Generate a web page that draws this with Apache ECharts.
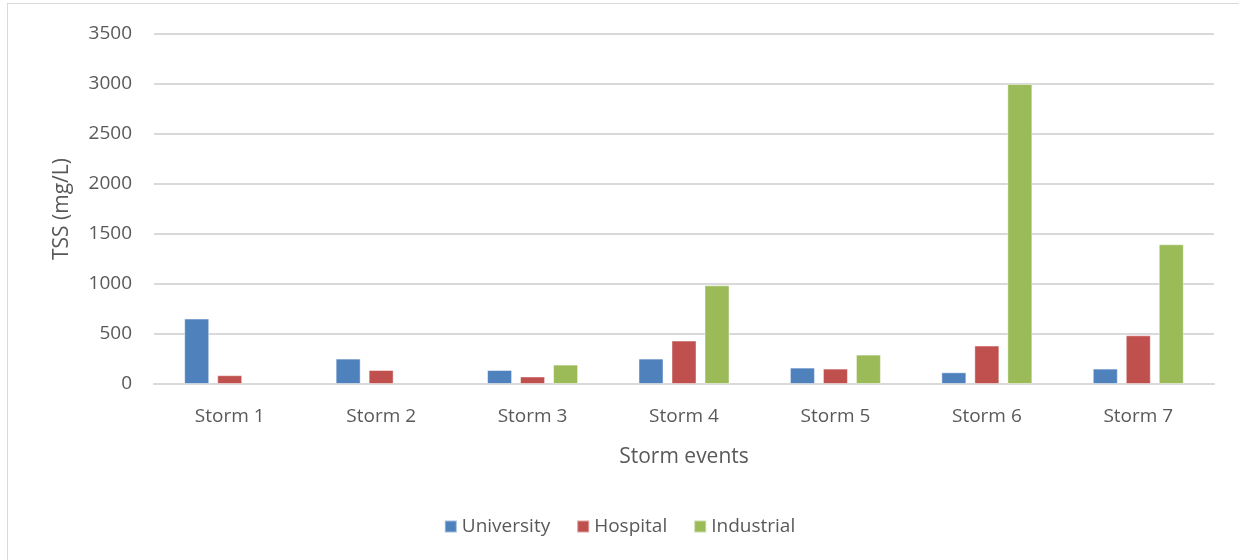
<!DOCTYPE html>
<html>
<head>
<meta charset="utf-8">
<script src="https://cdn.jsdelivr.net/npm/echarts@6/dist/echarts.min.js"></script>
<style>
html,body{margin:0;padding:0;background:#fff;}
#frame{position:absolute;left:7px;top:3px;width:1240px;height:570px;border:1px solid #d9d9d9;box-sizing:border-box;}
#chart{position:absolute;left:0;top:0;width:1239px;height:560px;}
</style>
</head>
<body>
<div id="frame"></div>
<div id="chart"></div>
<script>
const categories = ['Storm 1','Storm 2','Storm 3','Storm 4','Storm 5','Storm 6','Storm 7'];
const university = [654, 254, 140, 254, 164, 117, 154];
const hospital = [88, 140, 75, 434, 154, 384, 487];
const industrial = [null, null, 194, 987, 294, 3000, 1397];
const yTicks = [0, 500, 1000, 1500, 2000, 2500, 3000, 3500];

const font = '"Open Sans", Lato, sans-serif';
const txt = '#595959';
const chart = echarts.init(document.getElementById('chart'), null, {renderer:'canvas'});
function bar(name, data, color){
  return {
    name, type:'bar', data, barWidth:25, barGap:'32%',
    itemStyle:{color, borderColor:'rgba(255,255,255,0.45)', borderWidth:1},
    emphasis:{disabled:true}
  };
}
chart.setOption({
  animation:false,
  grid:{left:154, right:25, top:34, bottom:176, containLabel:false},
  legend:{
    bottom:19, left:'center', itemWidth:12, itemHeight:12, itemGap:26,
    icon:'rect',
    textStyle:{color:txt, fontSize:19, fontFamily:font},
    data:['University','Hospital','Industrial']
  },
  xAxis:{
    type:'category', data:categories,
    name:'Storm events', nameLocation:'middle', nameGap:63,
    nameTextStyle:{color:txt, fontSize:21, fontFamily:font},
    axisLine:{lineStyle:{color:'#d9d9d9', width:2}},
    axisTick:{show:false},
    axisLabel:{color:txt, fontSize:19, fontFamily:font, margin:23}
  },
  yAxis:{
    type:'value', min:0, max:3500, interval:500,
    name:'TSS (mg/L)', nameLocation:'middle', nameGap:81, nameRotate:90,
    nameTextStyle:{color:txt, fontSize:21, fontFamily:font},
    axisLine:{show:false}, axisTick:{show:false},
    axisLabel:{color:txt, fontSize:19, fontFamily:font, margin:22,
      formatter:v => yTicks.includes(v) ? String(v) : ''},
    splitLine:{lineStyle:{color:'#d9d9d9', width:2}}
  },
  series:[
    bar('University', university, '#4F81BD'),
    bar('Hospital', hospital, '#C0504D'),
    bar('Industrial', industrial, '#9BBB59')
  ]
});
</script>
</body>
</html>
